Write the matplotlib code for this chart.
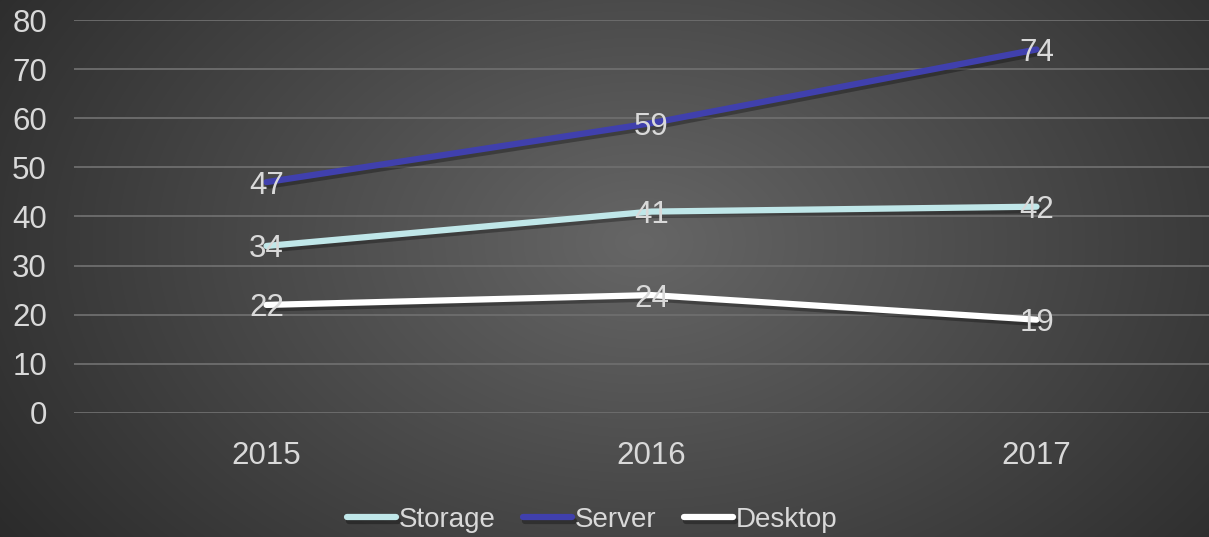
import numpy as np
import matplotlib
matplotlib.use("Agg")
import matplotlib.pyplot as plt
import matplotlib.patheffects as pe

plt.rcParams['font.family'] = ['Liberation Sans', 'DejaVu Sans']

years = ["2015", "2016", "2017"]
storage = [34, 41, 42]
server = [47, 59, 74]
desktop = [22, 24, 19]

series_names = ["Storage", "Server", "Desktop"]
series_values = [storage, server, desktop]
series_colors = ["#c0e7e9", "#4040ad", "#ffffff"]

W, H = 1209, 537
fig = plt.figure(figsize=(W / 100, H / 100), dpi=100)

# radial gradient background
bg = fig.add_axes([0, 0, 1, 1], zorder=-10)
yy, xx = np.mgrid[0:H, 0:W]
cx, cy = W * 0.53, H * 0.45
r = np.sqrt(((xx - cx) / (W * 0.62)) ** 2 + ((yy - cy) / (H * 0.95)) ** 2)
r = np.clip(r, 0, 1.2)
c = 0.40 - (0.40 - 0.175) * r
img = np.dstack([c, c, c])
bg.imshow(img, aspect='auto', extent=[0, 1, 0, 1], interpolation='bilinear')
bg.axis('off')

left = 74 / W
bottom = 1 - 413 / H
top = 1 - 20 / H
ax = fig.add_axes([left, bottom, 1155 / W, top - bottom])
ax.patch.set_alpha(0)

x = np.arange(len(years))
shadow = [pe.SimpleLineShadow(offset=(1.5, -2.5), shadow_color='black', alpha=0.3), pe.Normal()]
for name, vals, col in zip(series_names, series_values, series_colors):
    ax.plot(x, vals, color=col, lw=4.5, solid_capstyle='round', solid_joinstyle='round',
            label=name, zorder=3, path_effects=shadow)
    for xi, v in zip(x, vals):
        ax.text(xi, v, str(v), ha='center', va='center_baseline', fontsize=22.5,
                color='#d9d9d9', zorder=5)

ax.set_xlim(-0.5, 2.5)
ax.set_ylim(0, 80)
ax.set_yticks(range(0, 81, 10))
ax.set_xticks(x)
ax.set_xticklabels(years)
ax.grid(axis='y', color='#6e6e6e', lw=1.3, zorder=1)
ax.set_axisbelow(True)
for s in ax.spines.values():
    s.set_visible(False)
ax.tick_params(axis='both', length=0, labelsize=22.5, labelcolor='#d9d9d9')
ax.tick_params(axis='y', pad=19.5)
ax.tick_params(axis='x', pad=20)

handles = ax.get_lines()
leg = fig.legend(handles, series_names, loc='center', bbox_to_anchor=(592 / W, 1 - 520 / H),
                 ncol=3, frameon=False, fontsize=20, handlelength=1.75, handletextpad=0.1,
                 columnspacing=1.0, labelcolor='#d9d9d9')

fig.savefig("out.png", dpi=100)
